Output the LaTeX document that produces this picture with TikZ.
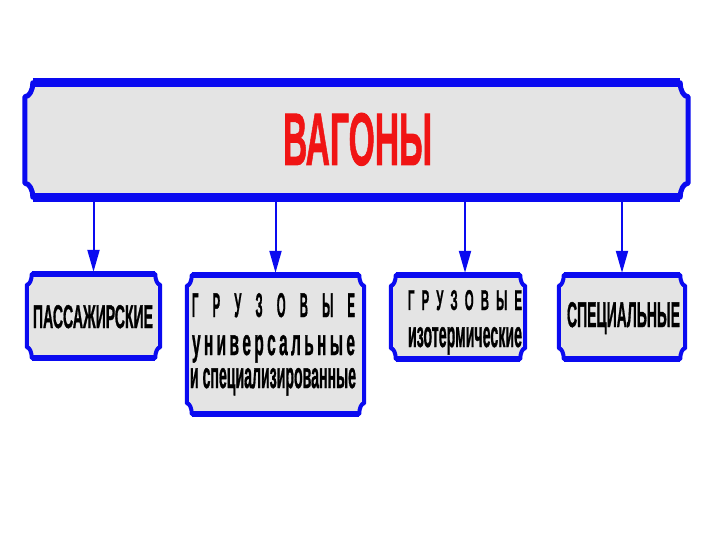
\documentclass[tikz,border=0pt]{standalone}
\usepackage{fontspec}
\setmainfont{Liberation Sans}
\newfontfamily\heavy[FakeBold=1.3]{Liberation Sans Bold}
\usepackage{graphicx}
\usetikzlibrary{arrows.meta,calc,backgrounds}
\definecolor{plblue}{RGB}{10,10,240}
\definecolor{plfill}{RGB}{228,228,228}
\definecolor{plred}{RGB}{240,20,20}
\newcommand\fitbox[3]{\resizebox{#1pt}{#2pt}{\heavy #3}}
% #1 node, #2 x radius, #3 y radius, #4 top/bottom width, #5 side width
\newcommand\plaque[5]{%
  \filldraw[fill=plfill,draw=plblue,line width=#5pt,line join=round]
    let \p1=(#1.north west),\p2=(#1.south east) in
    (\x1+#2pt,\y1) -- (\x2-#2pt,\y1)
    arc[start angle=180,end angle=270,x radius=#2pt,y radius=#3pt]
    -- (\x2,\y2+#3pt)
    arc[start angle=90,end angle=180,x radius=#2pt,y radius=#3pt]
    -- (\x1+#2pt,\y2)
    arc[start angle=0,end angle=90,x radius=#2pt,y radius=#3pt]
    -- (\x1,\y1-#3pt)
    arc[start angle=270,end angle=360,x radius=#2pt,y radius=#3pt] -- cycle;
  \draw[plblue,line width=#4pt]
    let \p1=(#1.north west),\p2=(#1.south east) in
    (\x1+#2pt,\y1) -- (\x2-#2pt,\y1)
    (\x1+#2pt,\y2) -- (\x2-#2pt,\y2);
}
\begin{document}
\begin{tikzpicture}[x=1pt,y=-1pt,
  boxnode/.style={draw=none,inner sep=0pt,rectangle},
  txt/.style={inner sep=0pt,anchor=base,text=black},
  arr/.style={plblue,line width=2pt,-{Triangle[length=22pt,width=12pt]},shorten >=2pt}]
\useasboundingbox (0,0) rectangle (720,540);
% boxes
\node[boxnode,minimum width=663pt,minimum height=114pt] (main) at (356.5,140) {};
\node[boxnode,minimum width=133pt,minimum height=84pt] (c1) at (93.5,316) {};
\node[boxnode,minimum width=177pt,minimum height=139pt] (c2) at (275.5,344.5) {};
\node[boxnode,minimum width=134pt,minimum height=84pt] (c3) at (458,317) {};
\node[boxnode,minimum width=126pt,minimum height=84pt] (c4) at (622,317) {};
\begin{scope}[on background layer]
  \fill[white] (0,0) rectangle (720,540);
  \plaque{main}{8}{14}{9}{5}
  \plaque{c1}{5}{11}{6}{4}
  \plaque{c2}{5}{11}{6}{4}
  \plaque{c3}{5}{11}{6}{4}
  \plaque{c4}{5}{11}{6}{4}
\end{scope}
% texts
\node[txt,text=plred] (tmain) at (357.5,165) {\fitbox{149}{52}{ВАГОНЫ}};
\node[txt] (t1) at (93,328) {\fitbox{120}{23}{ПАССАЖИРСКИЕ}};
\node[txt] (t2a) at (273.5,317) {\fitbox{163}{24}{\makebox[143pt][s]{Г Р У З О В Ы Е}}};
\node[txt] (t2b) at (273.5,355) {\fitbox{163}{20}{\makebox[105pt][s]{у н и в е р с а л ь н ы е}}};
\node[txt] (t2c) at (273,388) {\fitbox{166}{20}{и специализированные}};
\node[txt] (t3a) at (465,310) {\fitbox{114}{20}{\makebox[100pt][s]{Г Р У З О В Ы Е}}};
\node[txt] (t3b) at (465,347) {\fitbox{114}{20}{изотермические}};
\node[txt] (t4) at (623.5,327) {\fitbox{113}{25}{СПЕЦИАЛЬНЫЕ}};
% arrows
\draw[arr] (main.south -| c1.north) -- (c1.north);
\draw[arr] (main.south -| c2.north) -- (c2.north);
\draw[arr] ([xshift=7pt]c3.north |- main.south) -- ([xshift=7pt]c3.north);
\draw[arr] (main.south -| c4.north) -- (c4.north);
\end{tikzpicture}
\end{document}
